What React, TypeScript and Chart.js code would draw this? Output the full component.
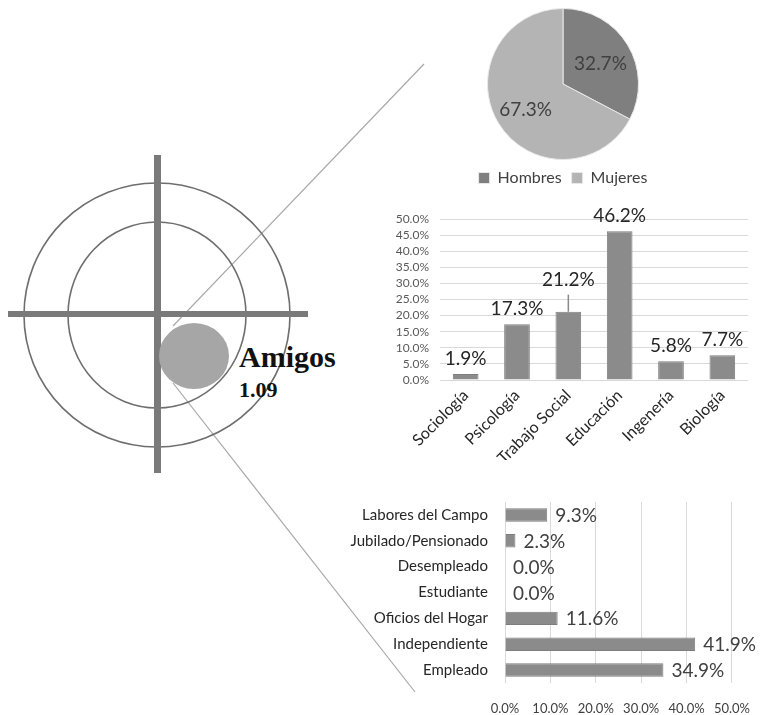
import React, { useEffect, useRef } from 'react';
import { Chart, registerables } from 'chart.js';
Chart.register(...registerables);

const FONT = 'Lato, "Open Sans", sans-serif';

// Pie: gender
const genderLabels = ['Hombres', 'Mujeres'];
const genderValues = [32.7, 67.3];
const genderColors = ['#7f7f7f', '#b4b4b4'];

// Vertical bars: careers
const careerLabels = ['Sociología', 'Psicología', 'Trabajo Social', 'Educación', 'Ingenería', 'Biología'];
const careerValues = [1.9, 17.3, 21.2, 46.2, 5.8, 7.7];
const careerErrorTop: (number | null)[] = [null, null, 26.5, null, null, null];
const careerTicks = [0, 5, 10, 15, 20, 25, 30, 35, 40, 45, 50];

// Horizontal bars: occupation
const jobLabels = ['Labores del Campo', 'Jubilado/Pensionado', 'Desempleado', 'Estudiante', 'Oficios del Hogar', 'Independiente', 'Empleado'];
const jobValues = [9.3, 2.3, 0.0, 0.0, 11.6, 41.9, 34.9];
const jobTicks = [0, 10, 20, 30, 40, 50];

// Target diagram
const targetName = 'Amigos';
const targetValue = '1.09';

const pct = (v: number) => v.toFixed(1) + '%';

function PieChart() {
  const ref = useRef<HTMLCanvasElement>(null);
  useEffect(() => {
    const labelPlugin = {
      id: 'pieLabels',
      afterDatasetsDraw(chart: any) {
        const ctx = chart.ctx;
        const meta = chart.getDatasetMeta(0);
        ctx.save();
        ctx.font = `19px ${FONT}`;
        ctx.fillStyle = '#404040';
        ctx.textAlign = 'center';
        ctx.textBaseline = 'middle';
        meta.data.forEach((arc: any, i: number) => {
          const p = arc.getProps(['x', 'y', 'startAngle', 'endAngle', 'outerRadius'], true);
          const mid = (p.startAngle + p.endAngle) / 2;
          const r = p.outerRadius * 0.58;
          ctx.fillText(pct(genderValues[i]), p.x + Math.cos(mid) * r, p.y + Math.sin(mid) * r + 3);
        });
        ctx.restore();
      },
    };
    const chart = new Chart(ref.current!, {
      type: 'pie',
      data: {
        labels: genderLabels,
        datasets: [{ data: genderValues, backgroundColor: genderColors, borderColor: '#e8e8e8', borderWidth: 1 }],
      },
      options: {
        animation: false,
        responsive: false,
        layout: { padding: { top: 8 } },
        plugins: {
          tooltip: { enabled: false },
          legend: {
            position: 'bottom',
            labels: { font: { size: 16, family: FONT }, color: '#404040', boxWidth: 11, boxHeight: 11, padding: 10 },
          },
        },
      },
      plugins: [labelPlugin],
    });
    return () => chart.destroy();
  }, []);
  return <canvas ref={ref} width={246} height={196} style={{ position: 'absolute', left: 440, top: 0, width: 246, height: 196 }} />;
}

function CareerChart() {
  const ref = useRef<HTMLCanvasElement>(null);
  useEffect(() => {
    const plugin = {
      id: 'careerExtras',
      afterDatasetsDraw(chart: any) {
        const ctx = chart.ctx;
        const meta = chart.getDatasetMeta(0);
        const ys = chart.scales.y;
        ctx.save();
        meta.data.forEach((bar: any, i: number) => {
          let top = bar.y;
          const e = careerErrorTop[i];
          if (e != null) {
            const ey = ys.getPixelForValue(e);
            ctx.strokeStyle = '#8a8a8a';
            ctx.lineWidth = 1.5;
            ctx.beginPath();
            ctx.moveTo(bar.x, bar.y);
            ctx.lineTo(bar.x, ey);
            ctx.stroke();
            top = Math.min(top, ey);
          }
          ctx.font = `19px ${FONT}`;
          ctx.fillStyle = '#262626';
          ctx.textAlign = 'center';
          ctx.textBaseline = 'middle';
          ctx.fillText(pct(careerValues[i]), bar.x, top - 15);
        });
        ctx.restore();
      },
    };
    const chart = new Chart(ref.current!, {
      type: 'bar',
      data: {
        labels: careerLabels,
        datasets: [{ data: careerValues, backgroundColor: '#8b8b8b', borderColor: '#7d7d7d', borderWidth: 1, barPercentage: 0.5, categoryPercentage: 1 }],
      },
      options: {
        animation: false,
        responsive: false,
        layout: { padding: { top: 19, right: 20, left: 0, bottom: 0 } },
        plugins: { legend: { display: false }, tooltip: { enabled: false } },
        scales: {
          x: {
            grid: { display: false, drawTicks: false },
            border: { display: false },
            ticks: { autoSkip: false, maxRotation: 45, minRotation: 45, font: { size: 16, family: FONT }, color: '#262626', padding: 6 },
            afterFit: (s: any) => { s.height = 80; },
          },
          y: {
            min: 0,
            max: 50,
            afterBuildTicks: (s: any) => { s.ticks = careerTicks.map((v) => ({ value: v })); },
            grid: { color: '#d9d9d9', drawTicks: false },
            border: { display: false },
            ticks: { autoSkip: false, font: { size: 12, family: FONT }, color: '#595959', padding: 11, callback: (v: any) => pct(Number(v)) },
            afterFit: (s: any) => { s.width = 60; },
          },
        },
      },
      plugins: [plugin],
    });
    return () => chart.destroy();
  }, []);
  return <canvas ref={ref} width={388} height={260} style={{ position: 'absolute', left: 380, top: 200, width: 388, height: 260 }} />;
}

function JobChart() {
  const ref = useRef<HTMLCanvasElement>(null);
  useEffect(() => {
    const plugin = {
      id: 'jobLabels',
      afterDatasetsDraw(chart: any) {
        const ctx = chart.ctx;
        const meta = chart.getDatasetMeta(0);
        ctx.save();
        ctx.font = `19px ${FONT}`;
        ctx.fillStyle = '#404040';
        ctx.textAlign = 'left';
        ctx.textBaseline = 'middle';
        meta.data.forEach((bar: any, i: number) => {
          ctx.fillText(pct(jobValues[i]), bar.x + 8, bar.y + 1);
        });
        ctx.restore();
      },
    };
    const chart = new Chart(ref.current!, {
      type: 'bar',
      data: {
        labels: jobLabels,
        datasets: [{ data: jobValues, backgroundColor: '#8b8b8b', borderColor: '#7d7d7d', borderWidth: 1, barPercentage: 0.52, categoryPercentage: 1 }],
      },
      options: {
        indexAxis: 'y',
        animation: false,
        responsive: false,
        layout: { padding: { top: 12, right: 23, left: 0, bottom: 0 } },
        plugins: { legend: { display: false }, tooltip: { enabled: false } },
        scales: {
          x: {
            min: 0,
            max: 50,
            afterBuildTicks: (s: any) => { s.ticks = jobTicks.map((v) => ({ value: v })); },
            grid: { color: '#d9d9d9', drawTicks: false },
            border: { display: false },
            ticks: { autoSkip: false, font: { size: 13, family: FONT }, color: '#404040', padding: 18, callback: (v: any) => pct(Number(v)) },
            afterFit: (s: any) => { s.height = 32; },
          },
          y: {
            grid: { display: false, drawTicks: false },
            border: { display: false },
            ticks: { autoSkip: false, font: { size: 15, family: FONT }, color: '#262626', padding: 17 },
            afterFit: (s: any) => { s.width = 175; s.paddingTop = 0; s.paddingBottom = 0; },
          },
        },
      },
      plugins: [plugin],
    });
    return () => chart.destroy();
  }, []);
  return <canvas ref={ref} width={438} height={225} style={{ position: 'absolute', left: 330, top: 490, width: 438, height: 225 }} />;
}

function Target() {
  return (
    <svg width={768} height={715} style={{ position: 'absolute', left: 0, top: 0 }}>
      <line x1={173} y1={326} x2={424} y2={64} stroke="#a8a8a8" strokeWidth={1.2} />
      <line x1={173} y1={383} x2={415} y2={692} stroke="#a8a8a8" strokeWidth={1.2} />
      <ellipse cx={157} cy={315} rx={133} ry={132} fill="none" stroke="#6e6e6e" strokeWidth={1.6} />
      <ellipse cx={157} cy={315} rx={89} ry={93} fill="none" stroke="#6e6e6e" strokeWidth={1.6} />
      <rect x={154} y={155} width={7} height={318} fill="#7a7a7a" />
      <rect x={8} y={311} width={300} height={6} fill="#7a7a7a" />
      <ellipse cx={194} cy={356} rx={35} ry={33} fill="#a6a6a6" />
      <text x={239} y={367} fontFamily='"Liberation Serif", "Times New Roman", serif' fontWeight="bold" fontSize={30} fill="#111">{targetName}</text>
      <text x={239} y={397} fontFamily='"Liberation Serif", "Times New Roman", serif' fontWeight="bold" fontSize={22} fill="#111">{targetValue}</text>
    </svg>
  );
}

export default function App() {
  return (
    <div style={{ position: 'absolute', left: 0, top: 0, width: 768, height: 715, background: '#fff', overflow: 'hidden' }}>
      <Target />
      <PieChart />
      <CareerChart />
      <JobChart />
    </div>
  );
}
